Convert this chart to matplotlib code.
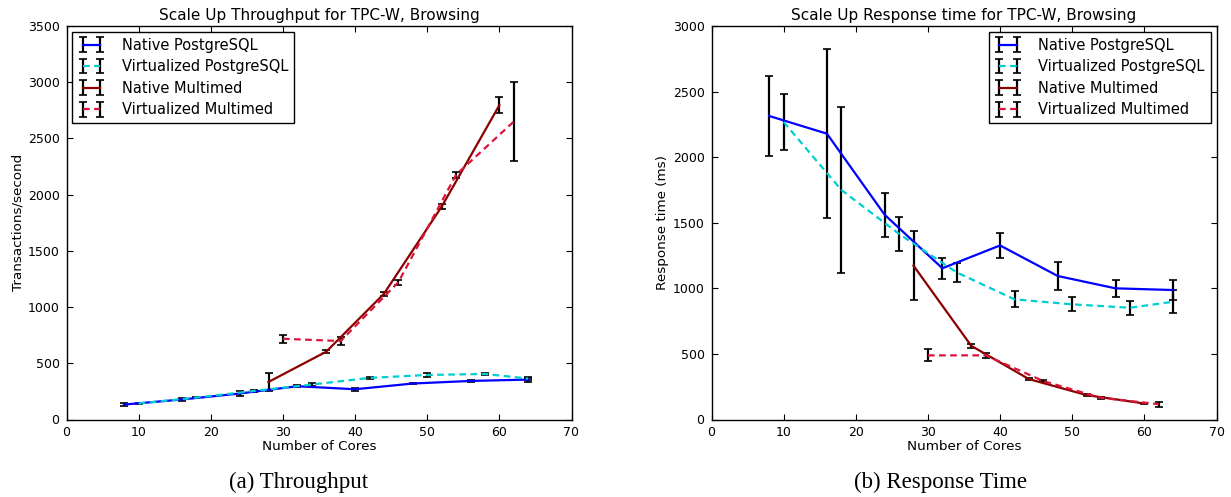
import matplotlib
matplotlib.use("Agg")
import matplotlib.pyplot as plt

# ---------------- data ----------------
x_npg = [8, 16, 24, 32, 40, 48, 56, 64]
x_vpg = [10, 18, 26, 34, 42, 50, 58, 64]
x_nmm = [28, 36, 44, 52, 60]
x_vmm = [30, 38, 46, 54, 62]

tp_npg = [133, 178, 231, 296, 269, 320, 343, 355]
tp_npg_err = [15, 10, 25, 10, 15, 8, 8, 18]
tp_vpg = [142, 195, 254, 311, 370, 396, 405, 364]
tp_vpg_err = [8, 8, 10, 12, 10, 15, 12, 12]
tp_nmm = [334, 603, 1118, 1893, 2795]
tp_nmm_err = [77, 12, 20, 20, 70]
tp_vmm = [718, 698, 1221, 2177, 2650]
tp_vmm_err = [37, 35, 22, 25, 350]

rt_npg = [2314, 2179, 1561, 1153, 1327, 1094, 1000, 987]
rt_npg_err = [305, 645, 166, 80, 98, 103, 64, 77]
rt_vpg = [2268, 1750, 1415, 1121, 916, 878, 852, 898]
rt_vpg_err = [214, 635, 128, 75, 60, 53, 55, 89]
rt_nmm = [1173, 562, 308, 186, 122]
rt_nmm_err = [262, 15, 8, 6, 5]
rt_vmm = [489, 489, 293, 165, 117]
rt_vmm_err = [45, 20, 8, 6, 20]

labels = ["Native PostgreSQL", "Virtualized PostgreSQL",
          "Native Multimed", "Virtualized Multimed"]
colors = ["#0000ff", "#00ced1", "#8b0000", "#dc143c"]
styles = ["-", "--", "-", "--"]

plt.rcParams['font.family'] = ['DejaVu Sans']
plt.rcParams['legend.numpoints'] = 2

fig = plt.figure(figsize=(12.31, 4.97), dpi=100)
W, H = 1231, 497

def make_axes(left_px):
    bottom = 419.5
    top = 26
    return fig.add_axes([left_px / W, (H - bottom) / H,
                         505 / W, (bottom - top) / H])

ax1 = make_axes(66.5)
ax2 = make_axes(711.5)

def draw(ax, series, ylim, title, ylabel, loc):
    for (xs, ys, es), lab, c, ls in zip(series, labels, colors, styles):
        cont = ax.errorbar(xs, ys, yerr=es, fmt=ls, color=c, lw=1.6,
                           ecolor='k', elinewidth=1.6, capsize=3,
                           capthick=1.2, label=lab)
        if ls == "--":
            cont.lines[0].set_dashes((3, 2))
    ax.set_xlim(0, 70)
    ax.set_ylim(*ylim)
    ax.set_xticks(range(0, 71, 10))
    ax.set_yticks(range(0, ylim[1] + 1, 500))
    ax.tick_params(direction='in', top=True, right=True, length=4,
                   width=0.8, labelsize=9, pad=5)
    for s in ax.spines.values():
        s.set_linewidth(1.0)
    ax.set_title(title, fontsize=11, pad=4)
    ax.set_ylabel(ylabel, fontsize=9.7, labelpad=2.5)
    ax.set_xlabel("Number of Cores", fontsize=9.7, labelpad=0.5)
    leg = ax.legend(loc=loc, fontsize=10.5, fancybox=False, framealpha=1,
                    edgecolor='k', borderaxespad=0.4, labelspacing=0.45,
                    handlelength=1.8, handletextpad=1.2, borderpad=0.4)
    leg.get_frame().set_linewidth(1.0)

draw(ax1, [(x_npg, tp_npg, tp_npg_err), (x_vpg, tp_vpg, tp_vpg_err),
           (x_nmm, tp_nmm, tp_nmm_err), (x_vmm, tp_vmm, tp_vmm_err)],
     (0, 3500), "Scale Up Throughput for TPC-W, Browsing",
     "Transactions/second", "upper left")
draw(ax2, [(x_npg, rt_npg, rt_npg_err), (x_vpg, rt_vpg, rt_vpg_err),
           (x_nmm, rt_nmm, rt_nmm_err), (x_vmm, rt_vmm, rt_vmm_err)],
     (0, 3000), "Scale Up Response time for TPC-W, Browsing",
     "Response time (ms)", "upper right")

fig.text(299 / W, 1 - 482 / H, "(a) Throughput", family="Liberation Serif",
         fontsize=16.5, ha="center", va="center")
fig.text(940 / W, 1 - 482 / H, "(b) Response Time", family="Liberation Serif",
         fontsize=16.5, ha="center", va="center")

fig.savefig("out.png", dpi=100)
